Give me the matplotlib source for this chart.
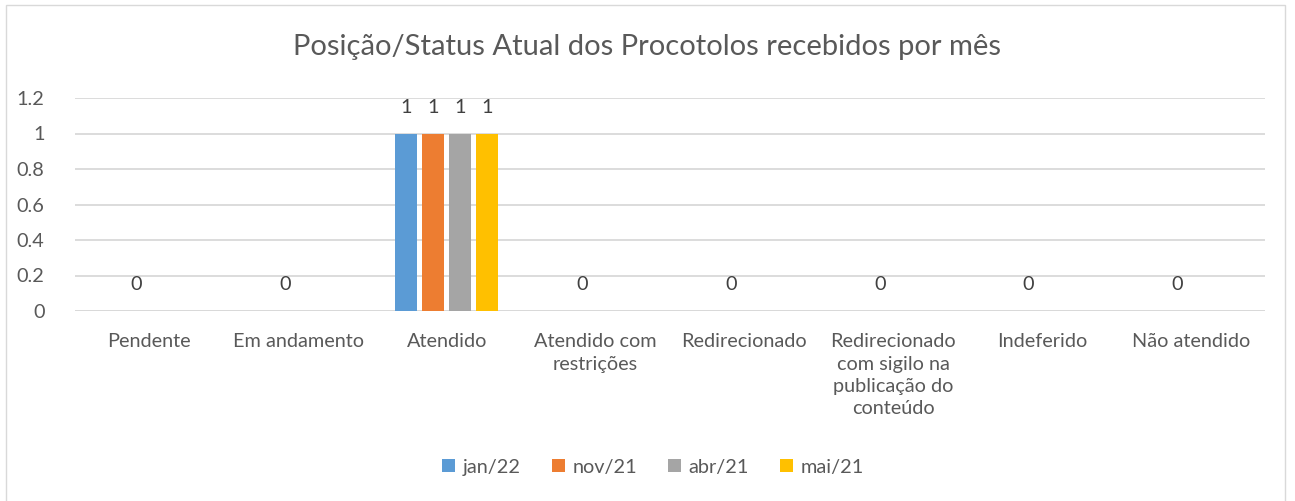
import numpy as np
import matplotlib.pyplot as plt
from matplotlib.patches import Rectangle

# --- DATA ---
categories = ['Pendente', 'Em andamento', 'Atendido', 'Atendido com\nrestrições',
              'Redirecionado', 'Redirecionado\ncom sigilo na\npublicação do\nconteúdo',
              'Indeferido', 'Não atendido']
series_names = ['jan/22', 'nov/21', 'abr/21', 'mai/21']
nan = np.nan
jan22 = [nan, nan, 1, nan, nan, nan, nan, nan]
nov21 = [0, 0, 1, 0, 0, 0, 0, 0]
abr21 = [nan, nan, 1, nan, nan, nan, nan, nan]
mai21 = [nan, nan, 1, nan, nan, nan, nan, nan]
series_values = [jan22, nov21, abr21, mai21]
colors = ['#5b9bd5', '#ed7d31', '#a5a5a5', '#ffc000']
yticks = [0, 0.2, 0.4, 0.6, 0.8, 1, 1.2]
ytick_labels = ['0', '0.2', '0.4', '0.6', '0.8', '1', '1.2']

TEXT = '#595959'
plt.rcParams['font.family'] = ['Lato', 'DejaVu Sans']

fig = plt.figure(figsize=(12.95, 5.01), dpi=100)
ax = fig.add_axes([75 / 1295, 1 - 311 / 501, 1190 / 1295, 213 / 501])

# chart frame
fig.patches.append(Rectangle((6 / 1295, -0.01), 1279 / 1295, 1.0, transform=fig.transFigure,
                             fill=False, edgecolor='#d9d9d9', linewidth=1))

x = np.arange(len(categories))
width = 0.148
pitch = 0.1815
for i, (name, vals, c) in enumerate(zip(series_names, series_values, colors)):
    pos = x + (i - 1.5) * pitch
    v = np.array(vals, dtype=float)
    ax.bar(pos, np.nan_to_num(v), width, color=c, label=name, zorder=3)
    for p, val in zip(pos, v):
        if not np.isnan(val):
            ax.text(p, val + 0.148, f'{val:g}', ha='center', va='center',
                    fontsize=14.3, color='#404040')

ax.set_xlim(-0.5, len(categories) - 0.5)
ax.set_ylim(0, 1.2)
ax.set_yticks(yticks)
ax.set_yticklabels(ytick_labels)
ax.set_xticks(x)
ax.set_xticklabels(categories, linespacing=1.38, va='top')
ax.tick_params(axis='both', length=0, colors=TEXT, labelsize=14.3)
ax.tick_params(axis='x', pad=16)
ax.tick_params(axis='y', pad=22)
ax.yaxis.grid(True, color='#d9d9d9', linewidth=1.3, zorder=0)
ax.set_axisbelow(True)
for s in ax.spines.values():
    s.set_visible(False)
ax.axhline(0, color='#d9d9d9', linewidth=1.3, zorder=2)

fig.text(647 / 1295, 1 - 47 / 501, 'Posição/Status Atual dos Procotolos recebidos por mês',
         ha='center', va='center', fontsize=21, color=TEXT)

leg = fig.legend(loc='center', bbox_to_anchor=(653 / 1295, 1 - 467 / 501), ncol=4,
                 frameon=False, fontsize=14.3, handlelength=0.65, handleheight=0.65,
                 handletextpad=0.4, columnspacing=1.55)
for t in leg.get_texts():
    t.set_color(TEXT)

fig.savefig('out.png', dpi=100)
